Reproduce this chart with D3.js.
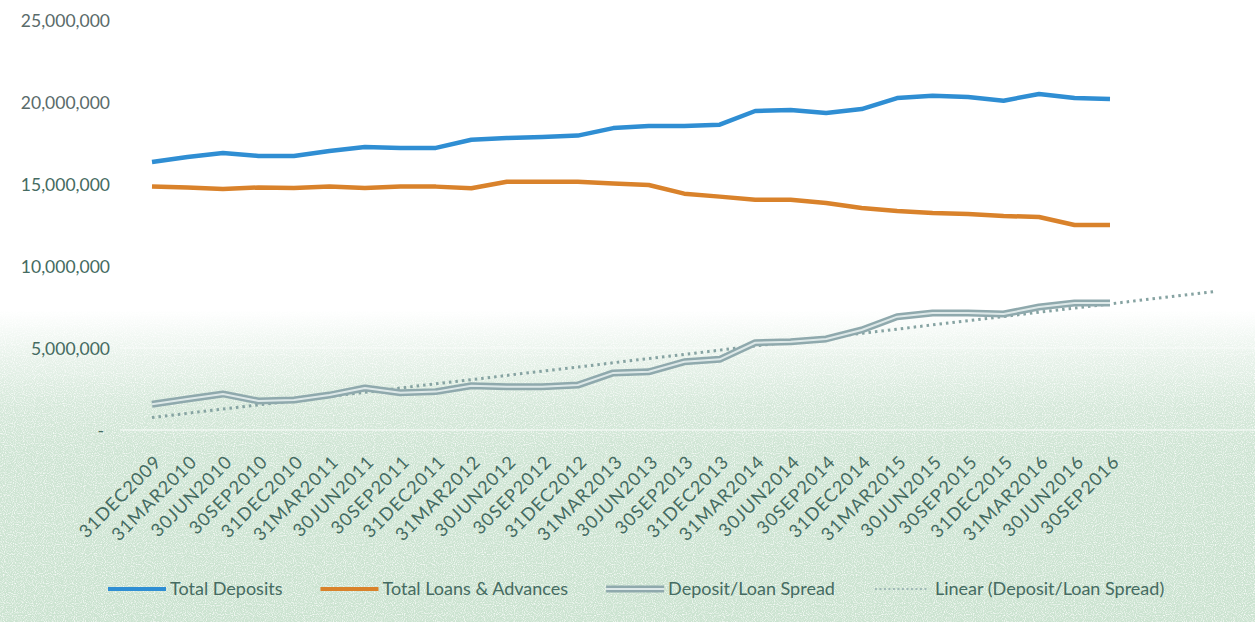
<!DOCTYPE html>
<html>
<head>
<meta charset="utf-8">
<script src="https://cdn.jsdelivr.net/npm/d3@7"></script>
<style>
  body { margin: 0; background: #fff; }
  svg { display: block; font-family: Lato, "Open Sans", sans-serif; }
</style>
</head>
<body>
<svg width="1255" height="622"></svg>
<script>
const quarters = ['31DEC2009', '31MAR2010', '30JUN2010', '30SEP2010', '31DEC2010', '31MAR2011', '30JUN2011',
    '30SEP2011', '31DEC2011', '31MAR2012', '30JUN2012', '30SEP2012', '31DEC2012', '31MAR2013', '30JUN2013',
    '30SEP2013', '31DEC2013', '31MAR2014', '30JUN2014', '30SEP2014', '31DEC2014', '31MAR2015', '30JUN2015',
    '30SEP2015', '31DEC2015', '31MAR2016', '30JUN2016', '30SEP2016'];

// values in millions
const deposits = [16.34, 16.65, 16.89, 16.71, 16.71, 17.01, 17.26, 17.2, 17.2, 17.7, 17.8, 17.87, 17.95, 18.41,
    18.54, 18.54, 18.62, 19.45, 19.51, 19.33, 19.57, 20.24, 20.38, 20.3, 20.08, 20.49, 20.24, 20.18];
const loans = [14.85, 14.78, 14.7, 14.79, 14.76, 14.85, 14.76, 14.85, 14.84, 14.74, 15.14, 15.14, 15.14, 15.03,
    14.94, 14.41, 14.23, 14.04, 14.04, 13.84, 13.54, 13.35, 13.23, 13.17, 13.05, 12.99, 12.5, 12.5];
const spread = [1.57, 1.89, 2.2, 1.77, 1.83, 2.13, 2.56, 2.27, 2.34, 2.7, 2.64, 2.64, 2.74, 3.48, 3.55, 4.16,
    4.31, 5.32, 5.38, 5.55, 6.1, 6.91, 7.13, 7.13, 7.07, 7.5, 7.74, 7.74];
const yTicks = [0, 5, 10, 15, 20, 25];
const forecastPeriods = 3;

const legendItems = [
    {name: 'Total Deposits', type: 'deposits'},
    {name: 'Total Loans & Advances', type: 'loans'},
    {name: 'Deposit/Loan Spread', type: 'spread'},
    {name: 'Linear (Deposit/Loan Spread)', type: 'trend'},
];

const svg = d3.select('svg');
const textColor = '#456b61';

// scanned green wash in the lower half
const defs = svg.append('defs');
const grad = defs.append('linearGradient')
    .attr('id', 'wash').attr('x1', 0).attr('x2', 0).attr('y1', 0).attr('y2', 1);
grad.append('stop').attr('offset', '0%').attr('stop-color', '#cfe5d4').attr('stop-opacity', 0);
grad.append('stop').attr('offset', '14%').attr('stop-color', '#cfe5d4').attr('stop-opacity', 0.45);
grad.append('stop').attr('offset', '30%').attr('stop-color', '#cfe5d4').attr('stop-opacity', 0.85);
grad.append('stop').attr('offset', '45%').attr('stop-color', '#cfe5d4').attr('stop-opacity', 1);
grad.append('stop').attr('offset', '100%').attr('stop-color', '#cbe3d0').attr('stop-opacity', 1);

const grain = defs.append('filter').attr('id', 'grain')
    .attr('x', 0).attr('y', 0).attr('width', '100%').attr('height', '100%');
grain.append('feTurbulence').attr('type', 'fractalNoise').attr('baseFrequency', 0.9)
    .attr('numOctaves', 1).attr('seed', 3).attr('result', 'noise');
grain.append('feColorMatrix').attr('in', 'noise').attr('type', 'matrix')
    .attr('values', '0 0 0 0 1  0 0 0 0 1  0 0 0 0 1  0 0 0 -2.4 1.3').attr('result', 'specks');
grain.append('feComposite').attr('in', 'specks').attr('in2', 'SourceGraphic').attr('operator', 'atop');

svg.append('rect')
    .attr('x', 0).attr('y', 310).attr('width', 1255).attr('height', 312)
    .attr('fill', 'url(#wash)')
    .attr('filter', 'url(#grain)');

const x = d3.scalePoint()
    .domain(quarters)
    .range([152, 1110]);

const y = d3.scaleLinear()
    .domain([0, 25])
    .range([430, 20]);

const step = x.step();
const xi = (i) => x(quarters[0]) + i * step;

// white gridlines (only visible on the wash)
svg.append('g')
    .selectAll('line')
    .data(yTicks)
    .join('line')
    .attr('x1', 120).attr('x2', 1255)
    .attr('y1', d => y(d)).attr('y2', d => y(d))
    .attr('stroke', '#fff')
    .attr('stroke-opacity', d => d === 0 ? 0.9 : 0.6)
    .attr('stroke-width', 1.2);

// y axis labels
const yAxis = svg.append('g')
    .attr('transform', 'translate(110,0)')
    .call(d3.axisLeft(y).tickValues(yTicks).tickSize(0).tickPadding(0)
        .tickFormat(d => d === 0 ? '-' : d3.format(',')(d * 1e6)));
yAxis.select('.domain').remove();
yAxis.selectAll('text')
    .attr('font-family', 'Lato, sans-serif')
    .attr('font-size', 17.5)
    .attr('fill', (d) => d >= 20 ? '#5a6b6a' : textColor)
    .attr('dy', '0.35em')
    .attr('dx', d => d === 0 ? -6 : 0);

// x axis labels
const xAxis = svg.append('g')
    .attr('transform', 'translate(0,430)')
    .call(d3.axisBottom(x).tickSize(0).tickPadding(0));
xAxis.select('.domain').remove();
xAxis.selectAll('text')
    .attr('font-family', 'Lato, sans-serif')
    .attr('font-size', 18)
    .attr('letter-spacing', 1)
    .attr('fill', textColor)
    .attr('text-anchor', 'end')
    .attr('dy', 0)
    .attr('transform', 'translate(10,33) rotate(-45)');

const line = d3.line()
    .x((d, i) => xi(i))
    .y(d => y(d));

// linear trend of the spread, with a 3 period forecast
const n = spread.length;
const mx = d3.mean(spread, (d, i) => i);
const my = d3.mean(spread);
const slope = d3.sum(spread, (d, i) => (i - mx) * (d - my)) / d3.sum(spread, (d, i) => (i - mx) ** 2);
const icpt = my - slope * mx;
const trend = [0, n - 1 + forecastPeriods].map(i => [i, icpt + slope * i]);

svg.append('path')
    .datum(trend)
    .attr('d', d3.line().x(d => xi(d[0])).y(d => y(d[1])))
    .attr('fill', 'none')
    .attr('stroke', '#86a3a2')
    .attr('stroke-width', 3)
    .attr('stroke-dasharray', '2.5 4');

// spread as a double line
svg.append('path')
    .datum(spread)
    .attr('d', line)
    .attr('fill', 'none')
    .attr('stroke', '#8fa9ad')
    .attr('stroke-width', 7)
    .attr('stroke-linejoin', 'round');
svg.append('path')
    .datum(spread)
    .attr('d', line)
    .attr('fill', 'none')
    .attr('stroke', '#dde8e8')
    .attr('stroke-width', 2)
    .attr('stroke-linejoin', 'round');

svg.append('path')
    .datum(loans)
    .attr('d', line)
    .attr('fill', 'none')
    .attr('stroke', '#d9822b')
    .attr('stroke-width', 4.5)
    .attr('stroke-linejoin', 'round');

svg.append('path')
    .datum(deposits)
    .attr('d', line)
    .attr('fill', 'none')
    .attr('stroke', '#2f8ed3')
    .attr('stroke-width', 4.5)
    .attr('stroke-linejoin', 'round');

// legend
const legend = svg.append('g').attr('transform', 'translate(108,589)');
let lx = 0;
legendItems.forEach(item => {
    const g = legend.append('g').attr('transform', `translate(${lx},0)`);
    if (item.type === 'deposits' || item.type === 'loans') {
        g.append('line').attr('x1', 0).attr('x2', 58).attr('y1', 0).attr('y2', 0)
            .attr('stroke', item.type === 'deposits' ? '#2f8ed3' : '#d9822b').attr('stroke-width', 4);
    } else if (item.type === 'spread') {
        g.append('line').attr('x1', 0).attr('x2', 58).attr('y1', 0).attr('y2', 0)
            .attr('stroke', '#8fa9ad').attr('stroke-width', 7);
        g.append('line').attr('x1', 0).attr('x2', 58).attr('y1', 0).attr('y2', 0)
            .attr('stroke', '#dde8e8').attr('stroke-width', 2);
    } else {
        g.append('line').attr('x1', 2).attr('x2', 56).attr('y1', 0).attr('y2', 0)
            .attr('stroke', '#9fb8b6').attr('stroke-width', 2).attr('stroke-dasharray', '2 2.5');
    }
    const t = g.append('text')
        .attr('x', 62).attr('y', 0).attr('dy', '0.35em')
        .attr('font-size', 18)
        .attr('fill', textColor)
        .text(item.name);
    lx += 62 + t.node().getComputedTextLength() + 38;
});
</script>
</body>
</html>
